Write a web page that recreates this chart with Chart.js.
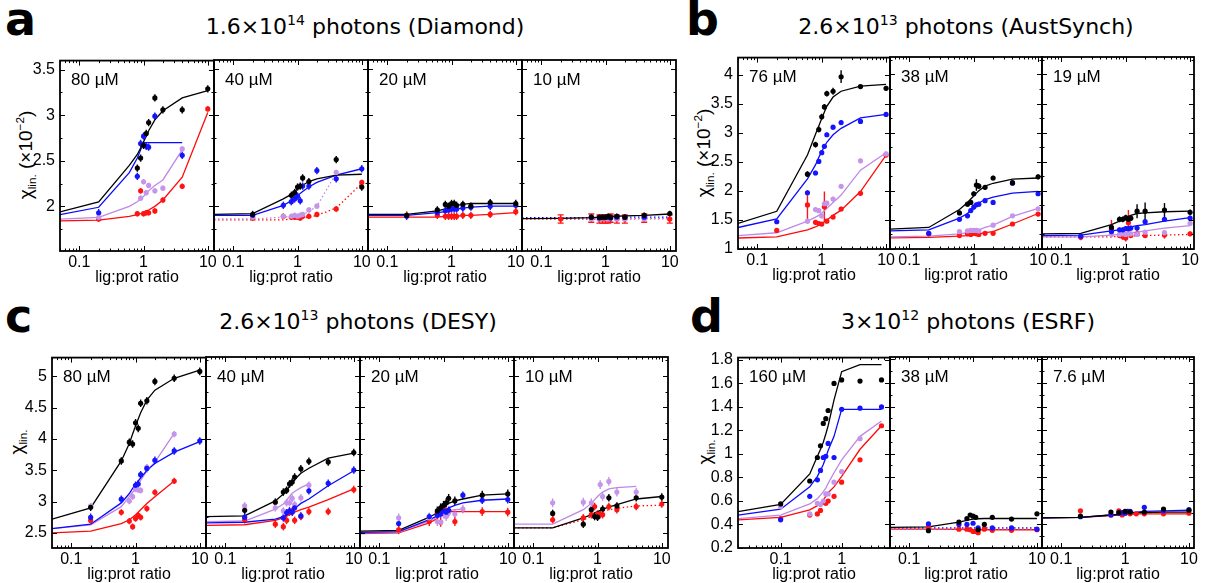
<!DOCTYPE html>
<html>
<head>
<meta charset="utf-8">
<title>Titration curves</title>
<script src="https://cdn.jsdelivr.net/npm/chart.js@4.4.1/dist/chart.umd.min.js"></script>
<style>
  html, body { margin: 0; padding: 0; background: #fff; }
  #fig { position: relative; width: 1209px; height: 583px; overflow: hidden; color: #000; }
  .panel { position: absolute; }
  .panel canvas { display: block; }
  .letter { position: absolute; font: bold 46px "DejaVu Sans", sans-serif; line-height: 1; }
  .title { position: absolute; font: 22px "DejaVu Sans", sans-serif; line-height: 1; white-space: nowrap; transform: translateX(-50%); }
  .title sup { font-size: 0.64em; vertical-align: 0.62em; line-height: 0; }
  .conc { position: absolute; font: 17px "Liberation Sans", Arial, sans-serif; line-height: 1; white-space: nowrap; }
  .ytitle { position: absolute; font: 19px "Liberation Sans", Arial, sans-serif; line-height: 1; white-space: nowrap; transform: translate(-50%, -50%) rotate(-90deg); }
  .ytitle sub { font-size: 0.62em; vertical-align: -0.35em; line-height: 0; }
  .ytitle sup { font-size: 0.62em; vertical-align: 0.6em; line-height: 0; }
</style>
</head>
<body>
<div id="fig">
  <div class="letter" style="left:5px;top:-4px">a</div>
  <div class="letter" style="left:686px;top:-4px">b</div>
  <div class="letter" style="left:5px;top:293px">c</div>
  <div class="letter" style="left:690px;top:293px">d</div>

  <div class="title" style="left:365px;top:16px">1.6×10<sup>14</sup> photons (Diamond)</div>
  <div class="title" style="left:966px;top:16px">2.6×10<sup>13</sup> photons (AustSynch)</div>
  <div class="title" style="left:358px;top:311px">2.6×10<sup>13</sup> photons (DESY)</div>
  <div class="title" style="left:968px;top:311px">3×10<sup>12</sup> photons (ESRF)</div>

  <div class="ytitle" style="left:25px;top:155px">χ<sub>lin.</sub> (×10<sup>−2</sup>)</div>
  <div class="ytitle" style="left:703px;top:153px">χ<sub>lin.</sub> (×10<sup>−2</sup>)</div>
  <div class="ytitle" style="left:16px;top:442px">χ<sub>lin.</sub></div>
  <div class="ytitle" style="left:704px;top:452px">χ<sub>lin.</sub></div>
</div>

<script>
const _ = null;

// ligand:protein ratios of the titration points and of the fitted curves
const ratios = [0.2, 0.6, 0.8, 0.9, 1.0, 1.1, 1.2, 1.5, 2, 4, 10];
const fitRatios = [0.05, 0.2, 0.6, 0.8, 0.9, 1.0, 1.1, 1.2, 1.5, 2, 4, 10];
const ratiosEsrf = [0.1, 0.3, 0.4, 0.45, 0.5, 0.55, 0.6, 0.75, 1, 2, 4.5];
const fitRatiosEsrf = [0.02, 0.1, 0.3, 0.4, 0.45, 0.5, 0.55, 0.6, 0.75, 1, 2, 4.5];

// series order everywhere: black, blue, purple, red
const lineColors = ['#000000', '#0a0aff', '#bf88e6', '#ff0a0a'];
const pointColors = ['#000000', '#1414ff', '#c595ea', '#ff1414'];

// ---- Diamond ----
const a80Pts = [
  [_, _, 2.42, 2.53, 2.67, 2.80, 2.92, 3.19, 3.06, 3.06, 3.29],
  [1.93, _, 2.33, 2.69, 2.77, 2.66, 2.65, 2.99, _, 2.56, _],
  [1.88, _, _, 2.09, 2.27, 2.15, 2.23, 2.17, 2.20, 2.63, _],
  [1.86, _, 1.92, 2.17, 1.92, 1.93, 1.93, 1.95, 2.07, 2.22, 3.07]
];
const a80Fit = [
  [1.94, 2.05, 2.45, 2.57, 2.64, 2.71, 2.77, 2.83, 2.95, 3.05, 3.19, 3.27],
  [1.91, 1.99, 2.37, 2.53, 2.62, 2.70, 2.70, 2.70, 2.70, 2.70, 2.70, _],
  [1.86, 1.88, 2.00, 2.05, 2.08, 2.11, 2.14, 2.17, 2.23, 2.29, 2.62, _],
  [1.84, 1.85, 1.89, 1.91, 1.92, 1.93, 1.95, 1.96, 2.00, 2.07, 2.32, 3.03]
];
const a80Err = [0.04, 0.04, 0.03, 0.03];

const a40Pts = [
  [1.91, _, 2.12, 2.15, 2.21, 2.22, 2.31, 2.27, _, 2.51, 2.21],
  [1.90, 2.01, 2.05, 2.08, 2.11, 2.06, 2.22, 2.22, 2.39, 2.30, 2.41],
  [1.88, 1.89, 1.89, 1.90, 1.89, 1.90, 1.91, 1.96, 2.00, 2.37, _],
  [1.87, 1.89, 1.88, 1.88, 1.88, 1.87, 1.89, 1.89, 1.91, 1.97, 2.26]
];
const a40Fit = [
  [1.91, 1.92, 2.08, 2.13, 2.16, 2.19, 2.21, 2.23, 2.27, 2.30, 2.34, 2.35],
  [1.90, 1.90, 2.01, 2.06, 2.09, 2.12, 2.14, 2.16, 2.21, 2.26, 2.34, 2.41],
  [1.86, 1.86, 1.88, 1.89, 1.89, 1.90, 1.90, 1.91, 1.94, 2.00, 2.36, _],
  [1.85, 1.85, 1.85, 1.86, 1.86, 1.86, 1.86, 1.87, 1.88, 1.90, 1.98, 2.25]
];
const a40Err = [0.04, 0.04, 0.03, 0.03];

const a20Pts = [
  [1.90, 1.96, 2.02, 2.00, 2.03, 2.03, 2.01, 2.02, 2.00, 2.04, 2.03],
  [1.89, 1.93, 1.95, 1.96, 1.97, 1.97, 1.97, 1.98, 1.99, 2.00, 2.01],
  _,
  [1.90, 1.90, 1.89, 1.89, 1.89, 1.89, 1.89, 1.90, 1.90, 1.91, 1.94]
];
const a20Fit = [
  [1.91, 1.91, 1.95, 1.97, 1.98, 2.00, 2.01, 2.01, 2.02, 2.03, 2.03, 2.03],
  [1.90, 1.90, 1.93, 1.94, 1.95, 1.96, 1.97, 1.97, 1.98, 1.99, 2.00, 2.00],
  _,
  [1.88, 1.88, 1.88, 1.89, 1.89, 1.89, 1.89, 1.89, 1.90, 1.90, 1.91, 1.93]
];
const a20Err = [0.04, 0.04, 0.03, 0.04];

const a10Pts = [
  [_, 1.88, 1.88, 1.88, 1.88, 1.89, 1.88, 1.89, 1.88, 1.90, 1.92],
  [_, 1.88, 1.87, 1.88, 1.88, 1.88, 1.87, 1.88, 1.88, 1.88, _],
  [_, 1.86, 1.86, 1.87, 1.87, 1.86, 1.87, 1.86, 1.86, 1.86, _],
  [1.86, 1.87, 1.86, 1.86, 1.86, 1.86, 1.87, 1.86, 1.86, 1.87, 1.86]
];
const a10Fit = [
  [1.865, 1.867, 1.875, 1.88, 1.88, 1.885, 1.885, 1.89, 1.89, 1.895, 1.90, 1.915],
  [1.875, 1.875, 1.875, 1.875, 1.875, 1.875, 1.875, 1.875, 1.88, 1.88, 1.88, 1.88],
  [1.865, 1.865, 1.865, 1.865, 1.865, 1.865, 1.865, 1.865, 1.865, 1.865, 1.865, 1.865],
  [1.86, 1.86, 1.86, 1.86, 1.86, 1.86, 1.86, 1.86, 1.86, 1.862, 1.864, 1.866]
];
const a10Err = [0.03, 0.03, 0.03, 0.045];

// ---- AustSynch ----
const b76Pts = [
  [_, 2.29, 2.80, 3.06, 3.28, 3.45, 3.68, 3.72, 3.97, 3.80, 3.77],
  [1.47, 1.97, 2.31, 2.51, 2.66, 2.77, 2.97, 3.10, 3.18, 3.20, 3.32],
  [_, 1.48, 1.68, 1.66, 1.57, 1.78, 1.79, 1.86, 2.08, 2.52, 2.64],
  [1.32, 1.76, 1.46, 1.44, 1.43, 1.73, 1.48, 1.55, 1.69, 1.96, 2.62]
];
const b76Fit = [
  [1.44, 1.65, 2.62, 2.98, 3.12, 3.25, 3.36, 3.46, 3.62, 3.72, 3.81, 3.84],
  [1.37, 1.52, 2.21, 2.45, 2.58, 2.68, 2.77, 2.84, 2.97, 3.08, 3.26, 3.32],
  [1.23, 1.28, 1.48, 1.55, 1.58, 1.62, 1.66, 1.70, 1.80, 1.93, 2.36, 2.66],
  [1.19, 1.21, 1.33, 1.38, 1.41, 1.44, 1.47, 1.50, 1.58, 1.67, 1.99, 2.62]
];
const b76Err = [
  [0.04, 0.05, 0.05, 0.05, 0.05, 0.05, 0.05, 0.06, 0.11, 0.03, 0.04],
  0.04, 0.04,
  [0.04, 0.25, 0.04, 0.03, 0.03, 0.26, 0.03, 0.03, 0.04, 0.04, 0.04]
];

const b38Pts = [
  [_, 1.62, 1.77, 1.80, 1.95, 2.10, 2.08, 2.06, 2.22, 2.14, 2.24],
  [1.27, 1.51, 1.57, 1.66, 1.72, 1.76, 1.77, 1.83, 1.80, 2.13, 1.95],
  [_, 1.30, 1.31, 1.32, 1.32, 1.32, 1.31, _, 1.41, 1.57, 1.69],
  [1.26, 1.23, 1.26, 1.25, 1.27, 1.26, 1.25, 1.27, 1.27, 1.43, 1.60]
];
const b38Fit = [
  [1.34, 1.37, 1.68, 1.80, 1.86, 1.91, 1.96, 2.00, 2.08, 2.13, 2.20, 2.22],
  [1.31, 1.33, 1.53, 1.61, 1.67, 1.72, 1.76, 1.79, 1.85, 1.89, 1.96, 1.99],
  [1.21, 1.22, 1.26, 1.28, 1.29, 1.30, 1.31, 1.33, 1.37, 1.41, 1.56, 1.70],
  [1.19, 1.20, 1.22, 1.23, 1.24, 1.24, 1.25, 1.26, 1.28, 1.30, 1.43, 1.61]
];
const b38Err = [[0.04, 0.04, 0.04, 0.04, 0.04, 0.10, 0.05, 0.04, 0.04, 0.04, 0.04], 0.04, 0.03, 0.03];

const b19Pts = [
  [_, 1.37, 1.51, 1.51, 1.54, 1.51, 1.53, 1.65, 1.65, 1.67, 1.63],
  [1.22, 1.30, 1.33, 1.33, 1.35, 1.35, 1.36, 1.36, 1.47, 1.51, 1.53],
  [_, 1.25, 1.25, 1.26, 1.25, 1.26, 1.26, 1.25, 1.29, 1.28, 1.44],
  [1.20, 1.35, 1.23, 1.21, 1.19, 1.45, 1.23, 1.26, 1.23, 1.24, 1.26]
];
const b19Fit = [
  [1.26, 1.27, 1.42, 1.48, 1.51, 1.53, 1.56, 1.58, 1.61, 1.62, 1.64, 1.65],
  [1.23, 1.24, 1.31, 1.33, 1.35, 1.36, 1.37, 1.38, 1.40, 1.42, 1.48, 1.54],
  [1.21, 1.21, 1.24, 1.25, 1.26, 1.26, 1.27, 1.28, 1.29, 1.31, 1.36, 1.40],
  [1.21, 1.21, 1.21, 1.22, 1.22, 1.22, 1.22, 1.22, 1.23, 1.23, 1.24, 1.25]
];
const b19Err = [
  [0.04, 0.05, 0.05, 0.05, 0.05, 0.05, 0.05, 0.12, 0.15, 0.12, 0.05],
  0.04, 0.03,
  [0.05, 0.15, 0.04, 0.05, 0.06, 0.22, 0.04, 0.04, 0.04, 0.06, 0.04]
];

// ---- DESY ----
const c80Pts = [
  [2.91, 3.65, 3.95, 3.92, 4.26, 4.17, 4.57, 4.61, 4.92, 4.97, 5.08],
  [2.75, 3.04, _, _, 3.26, 3.28, 3.43, 3.53, 3.66, 3.81, 3.97],
  [2.93, _, 3.01, 3.08, 3.20, 3.19, 3.18, 3.55, _, 4.08, _],
  [2.70, 2.83, 2.69, 2.60, 2.73, 2.78, 2.75, 2.89, 3.15, 3.33, _]
];
const c80Fit = [
  [2.72, 2.90, 3.65, 3.93, 4.08, 4.21, 4.32, 4.42, 4.62, 4.78, 4.97, 5.10],
  [2.57, 2.64, 2.98, 3.13, 3.21, 3.27, 3.33, 3.38, 3.50, 3.61, 3.79, 3.96],
  [2.57, 2.63, 2.92, 3.08, 3.15, 3.21, 3.28, 3.34, 3.49, 3.63, 4.09, _],
  [2.50, 2.53, 2.65, 2.71, 2.75, 2.79, 2.83, 2.87, 2.97, 3.08, 3.33, _]
];
const c80Err = [0.06, 0.06, 0.05, 0.05];

const c40Pts = [
  [2.86, 2.99, 3.15, 3.18, 3.28, 3.31, 3.39, 3.52, 3.64, 3.63, 3.78],
  [2.75, _, 2.74, 2.82, 2.85, 2.83, 2.90, 2.77, 3.17, 3.29, 3.50],
  [2.93, 2.90, 2.85, 2.98, 2.98, 3.05, 2.95, 3.06, 3.26, _, _],
  [2.71, 2.64, 2.60, 2.70, 2.83, 2.85, 2.70, 2.76, 2.84, 2.84, 3.19]
];
const c40Fit = [
  [2.76, 2.77, 3.01, 3.12, 3.18, 3.24, 3.30, 3.35, 3.45, 3.53, 3.69, 3.77],
  [2.66, 2.67, 2.72, 2.76, 2.79, 2.82, 2.86, 2.89, 2.97, 3.04, 3.25, 3.49],
  [2.68, 2.69, 2.88, 2.96, 3.02, 3.08, 3.13, 3.16, 3.22, 3.28, _, _],
  [2.62, 2.63, 2.70, 2.74, 2.77, 2.79, 2.81, 2.83, 2.87, 2.91, 3.03, 3.20]
];
const c40Err = [0.06, 0.06, 0.06, 0.06];

const c20Pts = [
  [_, _, 2.85, 2.90, 2.94, 2.98, 3.05, 3.01, _, 3.10, 3.12],
  [2.65, 2.76, 2.78, 2.80, 2.85, 2.83, 2.86, _, 3.10, 3.02, 3.03],
  [2.74, 2.74, 2.68, 2.67, 2.80, 2.76, 2.82, 2.80, 2.88, _, _],
  [2.55, 2.68, 2.82, 2.67, 2.90, 2.83, 2.84, 2.68, _, 2.84, 2.83]
];
const c20Fit = [
  [2.53, 2.54, 2.75, 2.82, 2.86, 2.90, 2.94, 2.97, 3.01, 3.04, 3.10, 3.12],
  [2.51, 2.52, 2.71, 2.77, 2.81, 2.84, 2.87, 2.90, 2.94, 2.98, 3.02, 3.04],
  [2.50, 2.51, 2.69, 2.75, 2.78, 2.81, 2.83, 2.85, 2.87, 2.88, _, _],
  [2.49, 2.50, 2.66, 2.73, 2.78, 2.82, 2.83, 2.84, 2.84, 2.84, 2.84, 2.84]
];
const c20Err = [0.07, 0.06, 0.07, 0.07];

const c10Pts = [
  [2.81, 2.64, 2.87, 2.76, 2.75, _, 2.88, 3.06, 2.93, 3.06, 3.07],
  _,
  [2.98, 2.99, 2.98, _, _, 3.27, 3.08, 3.32, 3.15, 3.15, _],
  [2.71, 2.74, 2.79, 2.92, 2.80, 2.79, 2.79, 2.92, 2.87, 2.92, 2.96]
];
const c10Fit = [
  [2.58, 2.58, 2.74, 2.79, 2.82, 2.84, 2.86, 2.88, 2.91, 2.95, 3.04, 3.08],
  _,
  [2.64, 2.64, 2.87, 2.97, 3.03, 3.08, 3.12, 3.15, 3.20, 3.22, 3.24, _],
  [2.58, 2.58, 2.71, 2.76, 2.79, 2.81, 2.83, 2.85, 2.87, 2.89, 2.93, 2.94]
];
const c10Err = [0.06, 0.06, 0.07, 0.06];

// ---- ESRF ----
const d160Pts = [
  [0.575, 0.77, 0.97, 1.07, 1.26, 1.30, 1.37, 1.60, 1.63, 1.62, 1.63],
  [0.44, 0.64, 0.78, 0.86, 0.97, 0.98, 1.09, 0.97, 1.38, 1.39, 1.40],
  [0.55, 0.49, 0.58, 0.57, 0.60, 0.66, 0.66, 0.76, 0.85, 1.13, _],
  [0.45, 0.48, 0.49, 0.52, 0.59, 0.58, 0.60, 0.64, 0.76, 0.95, 1.24]
];
const d160Fit = [
  [0.51, 0.57, 0.83, 0.98, 1.04, 1.10, 1.17, 1.24, 1.46, 1.70, 1.76, 1.76],
  [0.48, 0.53, 0.72, 0.81, 0.86, 0.91, 0.97, 1.03, 1.15, 1.38, 1.38, 1.38],
  [0.45, 0.48, 0.575, 0.62, 0.65, 0.68, 0.71, 0.75, 0.84, 0.95, 1.15, 1.28],
  [0.44, 0.46, 0.525, 0.56, 0.58, 0.61, 0.64, 0.67, 0.72, 0.81, 1.04, 1.24]
];

const d38Pts = [
  [0.347, 0.42, 0.45, 0.48, 0.47, 0.46, 0.355, 0.40, 0.46, 0.445, 0.49],
  [0.405, 0.40, 0.40, _, 0.41, _, 0.37, _, 0.37, 0.37, 0.36],
  _,
  [0.38, 0.36, 0.36, 0.355, 0.34, 0.34, 0.33, 0.36, 0.35, 0.35, 0.355]
];
const d38Fit = [
  [0.375, 0.38, 0.42, 0.435, 0.44, 0.445, 0.447, 0.448, 0.45, 0.45, 0.45, 0.45],
  [0.37, 0.37, 0.37, 0.37, 0.37, 0.37, 0.37, 0.37, 0.37, 0.37, 0.37, 0.37],
  [0.362, 0.362, 0.362, 0.362, 0.362, 0.362, 0.362, 0.362, 0.362, 0.362, 0.362, 0.362],
  [0.36, 0.36, 0.358, 0.357, 0.356, 0.355, 0.355, 0.355, 0.355, 0.355, 0.355, 0.355]
];

const d7Pts = [
  [0.47, 0.505, 0.50, _, 0.51, _, 0.505, _, 0.505, 0.53, 0.52],
  [0.465, 0.48, 0.495, 0.50, 0.495, 0.51, 0.51, _, 0.545, 0.515, 0.525],
  _,
  [0.515, 0.48, 0.515, 0.48, 0.495, 0.51, 0.49, 0.49, 0.49, 0.49, 0.495]
];
const d7Fit = [
  [0.455, 0.46, 0.48, 0.485, 0.49, 0.49, 0.495, 0.495, 0.50, 0.50, 0.505, 0.505],
  [0.455, 0.46, 0.48, 0.485, 0.49, 0.49, 0.495, 0.50, 0.505, 0.51, 0.515, 0.52],
  _,
  [0.455, 0.46, 0.475, 0.48, 0.48, 0.485, 0.485, 0.485, 0.49, 0.49, 0.49, 0.49]
];
const noErr = [0, 0, 0, 0];

const solid = [false, false, false, false];

// frame geometry of each group of panels
const groupA = { top: 60, height: 191, width: 154, x: [0.05, 12.5], y: [1.51, 3.6], major: 0.5 };
const groupB = { top: 57, height: 192, width: 152, x: [0.05, 11.5], y: [1, 4.3], major: 0.5 };
const groupC = { top: 357, height: 191, width: 154, x: [0.05, 12.5], y: [2.26, 5.3], major: 0.5 };
const groupD = { top: 357, height: 191, width: 152, x: [0.05, 12], y: [0.2, 1.82], major: 0.2 };

const panels = [
  { g: groupA, left: 60, first: true, label: '80 µM', pts: a80Pts, fit: a80Fit, err: a80Err, dash: solid },
  { g: groupA, left: 214, label: '40 µM', pts: a40Pts, fit: a40Fit, err: a40Err, dash: [false, false, true, true] },
  { g: groupA, left: 368, label: '20 µM', pts: a20Pts, fit: a20Fit, err: a20Err, dash: solid },
  { g: groupA, left: 522, label: '10 µM', pts: a10Pts, fit: a10Fit, err: a10Err, dash: [false, true, true, true], caps: true },
  { g: groupB, left: 738, first: true, label: '76 µM', pts: b76Pts, fit: b76Fit, err: b76Err, dash: solid },
  { g: groupB, left: 890, label: '38 µM', pts: b38Pts, fit: b38Fit, err: b38Err, dash: solid },
  { g: groupB, left: 1042, label: '19 µM', pts: b19Pts, fit: b19Fit, err: b19Err, dash: [false, false, false, true] },
  { g: groupC, left: 52, first: true, label: '80 µM', pts: c80Pts, fit: c80Fit, err: c80Err, dash: solid },
  { g: groupC, left: 206, label: '40 µM', pts: c40Pts, fit: c40Fit, err: c40Err, dash: solid },
  { g: groupC, left: 360, label: '20 µM', pts: c20Pts, fit: c20Fit, err: c20Err, dash: solid },
  { g: groupC, left: 514, label: '10 µM', pts: c10Pts, fit: c10Fit, err: c10Err, dash: [false, false, false, true] },
  { g: groupD, left: 738, first: true, label: '160 µM', pts: d160Pts, fit: d160Fit, err: noErr, dash: solid,
    xRange: [0.02, 6.2], ptsX: ratiosEsrf, fitX: fitRatiosEsrf },
  { g: groupD, left: 890, label: '38 µM', pts: d38Pts, fit: d38Fit, err: noErr, dash: [false, true, true, false] },
  { g: groupD, left: 1042, label: '7.6 µM', pts: d7Pts, fit: d7Fit, err: noErr, dash: solid }
];

const PADL = 52, PADR = 16, PADT = 14, PADB = 42;
const FONT = '"Liberation Sans", Arial, sans-serif';
Chart.defaults.font.family = FONT;
Chart.defaults.color = '#000';

const isDecade = v => Math.abs(Math.log10(v) - Math.round(Math.log10(v))) < 1e-9;
const fmt = v => String(parseFloat(v.toFixed(2)));

function logTicks(min, max) {
  const out = [];
  for (let e = Math.floor(Math.log10(min)); e <= Math.ceil(Math.log10(max)); e++) {
    for (let m = 1; m < 10; m++) {
      const v = +(m * Math.pow(10, e)).toPrecision(6);
      if (v >= min - 1e-9 && v <= max + 1e-9) out.push({ value: v, major: m === 1 });
    }
  }
  return out;
}

function linTicks(min, max, major) {
  const minor = major / 2, out = [];
  for (let k = Math.ceil(min / minor - 1e-6); k * minor <= max + 1e-9; k++) {
    const v = +(k * minor).toFixed(4);
    out.push({ value: v, major: Math.abs(v / major - Math.round(v / major)) < 1e-6 });
  }
  return out;
}

// vertical error bars, drawn under the markers
const errorBars = {
  id: 'errorBars',
  beforeDatasetsDraw(chart) {
    const { ctx, chartArea: a, scales: { x, y } } = chart;
    ctx.save();
    ctx.beginPath();
    ctx.rect(a.left, a.top, a.width, a.height);
    ctx.clip();
    chart.data.datasets.forEach(ds => {
      if (!ds.errors) return;
      ctx.strokeStyle = ds.backgroundColor;
      ctx.lineWidth = 1.4;
      ds.data.forEach((d, i) => {
        const e = ds.errors[i];
        if (!e) return;
        const px = x.getPixelForValue(d.x);
        const t = y.getPixelForValue(d.y + e), b = y.getPixelForValue(d.y - e);
        ctx.beginPath();
        ctx.moveTo(px, t);
        ctx.lineTo(px, b);
        if (ds.errorCaps) {
          ctx.moveTo(px - 3, t); ctx.lineTo(px + 3, t);
          ctx.moveTo(px - 3, b); ctx.lineTo(px + 3, b);
        }
        ctx.stroke();
      });
    });
    ctx.restore();
  }
};

// boxed frame with inward ticks on all four sides
const frame = {
  id: 'frame',
  afterDraw(chart) {
    const { ctx, chartArea: a, scales: { x, y } } = chart;
    ctx.save();
    ctx.strokeStyle = '#000';
    ctx.lineWidth = 1;
    ctx.beginPath();
    x.ticks.forEach(t => {
      const px = Math.round(x.getPixelForValue(t.value)) + 0.5;
      const len = t.major ? 5 : 2.5;
      ctx.moveTo(px, a.bottom); ctx.lineTo(px, a.bottom - len);
      ctx.moveTo(px, a.top); ctx.lineTo(px, a.top + len);
    });
    y.ticks.forEach(t => {
      const py = Math.round(y.getPixelForValue(t.value)) + 0.5;
      const len = t.major ? 5 : 2.5;
      ctx.moveTo(a.left, py); ctx.lineTo(a.left + len, py);
      ctx.moveTo(a.right, py); ctx.lineTo(a.right - len, py);
    });
    ctx.stroke();
    ctx.lineWidth = 1.8;
    ctx.strokeRect(a.left, a.top, a.width, a.height);
    ctx.restore();
  }
};

function buildDatasets(p) {
  const ptsX = p.ptsX || ratios, fitX = p.fitX || fitRatios;
  const ds = [];
  p.fit.forEach((ys, s) => {
    if (!ys) return;
    ds.push({
      type: 'line',
      order: 2,
      data: ys.map((y, i) => ({ x: fitX[i], y })).filter(d => d.y !== null),
      borderColor: lineColors[s],
      borderWidth: 1.3,
      borderDash: p.dash[s] ? [1.5, 2.5] : [],
      pointRadius: 0,
      fill: false,
      tension: 0
    });
  });
  p.pts.forEach((ys, s) => {
    if (!ys) return;
    const e = p.err[s];
    const rows = ys.map((y, i) => ({ x: ptsX[i], y, e: Array.isArray(e) ? e[i] : e }))
                   .filter(d => d.y !== null);
    ds.push({
      type: 'scatter',
      order: 1,
      data: rows.map(d => ({ x: d.x, y: d.y })),
      errors: rows.map(d => d.e),
      errorCaps: !!p.caps && s === 3,
      backgroundColor: pointColors[s],
      borderWidth: 0,
      pointRadius: 2.6
    });
  });
  return ds;
}

const fig = document.getElementById('fig');

panels.forEach(p => {
  const g = p.g;
  const xr = p.xRange || g.x;
  const wrap = document.createElement('div');
  wrap.className = 'panel';
  wrap.style.left = (p.left - PADL) + 'px';
  wrap.style.top = (g.top - PADT) + 'px';
  const canvas = document.createElement('canvas');
  canvas.width = g.width + PADL + PADR;
  canvas.height = g.height + PADT + PADB;
  wrap.appendChild(canvas);
  fig.appendChild(wrap);

  const conc = document.createElement('div');
  conc.className = 'conc';
  conc.textContent = p.label;
  conc.style.left = (p.left + 11) + 'px';
  conc.style.top = (g.top + 11) + 'px';
  fig.appendChild(conc);

  new Chart(canvas, {
    type: 'scatter',
    data: { datasets: buildDatasets(p) },
    options: {
      responsive: false,
      animation: false,
      devicePixelRatio: 1,
      layout: { padding: { top: PADT, right: PADR, left: 0, bottom: 0 } },
      plugins: { legend: { display: false }, tooltip: { enabled: false } },
      scales: {
        x: {
          type: 'logarithmic',
          min: xr[0],
          max: xr[1],
          grid: { display: false, drawTicks: false },
          border: { display: false },
          afterBuildTicks: s => { s.ticks = logTicks(xr[0], xr[1]); },
          afterFit: s => { s.height = PADB; },
          ticks: {
            autoSkip: false,
            maxRotation: 0,
            padding: 2,
            color: '#000',
            font: { family: FONT, size: 16 },
            callback: v => isDecade(v) ? fmt(v) : ''
          },
          title: {
            display: true,
            text: 'lig:prot ratio',
            color: '#000',
            font: { family: FONT, size: 16 },
            padding: { top: 0, bottom: 6 }
          }
        },
        y: {
          type: 'linear',
          min: g.y[0],
          max: g.y[1],
          grid: { display: false, drawTicks: false },
          border: { display: false },
          afterBuildTicks: s => { s.ticks = linTicks(g.y[0], g.y[1], g.major); },
          afterFit: s => { s.width = PADL; },
          ticks: {
            display: !!p.first,
            padding: 5,
            color: '#000',
            font: { family: FONT, size: 16 },
            callback: (v, i, ticks) => ticks[i].major ? fmt(v) : ''
          }
        }
      }
    },
    plugins: [errorBars, frame]
  });
});
</script>
</body>
</html>
